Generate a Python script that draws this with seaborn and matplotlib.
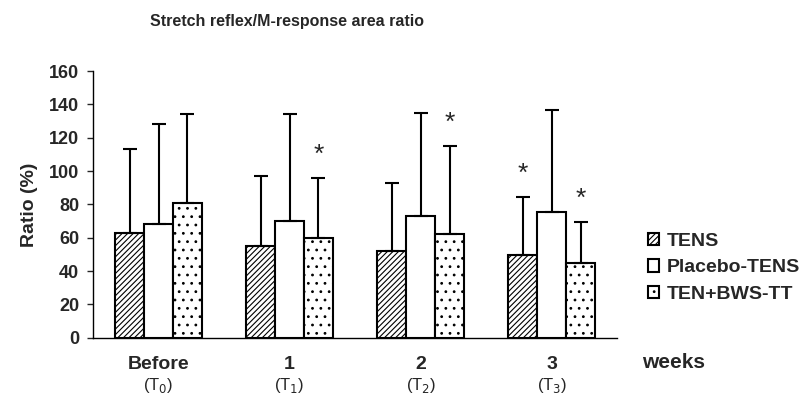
import numpy as np
import pandas as pd
from matplotlib import pyplot as plt
import seaborn as sns

# values
weeks = ['Before', '1', '2', '3']
sub_labels = ['(T$_0$)', '(T$_1$)', '(T$_2$)', '(T$_3$)']
groups = ['TENS', 'Placebo-TENS', 'TEN+BWS-TT']
tens_mean = [63, 55, 52, 49.5]
tens_sd = [50, 42, 41, 35]
placebo_mean = [68.5, 70, 73, 75.5]
placebo_sd = [60, 64.5, 62, 61]
bws_mean = [81, 60, 62, 45]
bws_sd = [53, 36, 53, 24.5]
# (week index, group index) marked as significant
stars = [(1, 2), (2, 2), (3, 0), (3, 2)]

sns.set_theme(style='ticks')
plt.rcParams['font.family'] = ['Liberation Sans', 'DejaVu Sans']
plt.rcParams['hatch.linewidth'] = 0.8
plt.rcParams['hatch.color'] = 'black'

df = pd.DataFrame({
    'week': weeks * 3,
    'group': np.repeat(groups, 4),
    'ratio': tens_mean + placebo_mean + bws_mean,
})
sds = [tens_sd, placebo_sd, bws_sd]
hatches = ['//////', '', '..']

fig = plt.figure(figsize=(8.09, 4.04), dpi=100)
ax = fig.add_axes([0.115, 0.164, 0.648, 0.66])

sns.barplot(data=df, x='week', y='ratio', hue='group', order=weeks, hue_order=groups,
            palette=['white'] * 3, saturation=1, width=0.66, gap=0,
            edgecolor='black', linewidth=1.5, errorbar=None, legend=False, ax=ax)

bars = list(ax.containers)
tops = {}
for i, cont in enumerate(bars):
    xs = []
    hs = []
    for p in cont.patches:
        p.set_hatch(hatches[i])
        xs.append(p.get_x() + p.get_width() / 2)
        hs.append(p.get_height())
    ax.errorbar(xs, hs, yerr=[np.zeros(4), sds[i]], fmt='none', ecolor='black',
                elinewidth=1.5, capsize=4.7, capthick=1.5, zorder=3)
    for j in range(4):
        tops[(j, i)] = (xs[j], hs[j] + sds[i][j])

for key in stars:
    x, y = tops[key]
    ax.text(x, y + 14, '*', ha='center', va='center', fontsize=19)

ax.set_ylim(0, 160)
ax.set_xlim(-0.5, 3.5)
ax.set_yticks(range(0, 161, 20))
ax.tick_params(axis='y', length=4, width=1, pad=6, labelsize=13)
for t in ax.get_yticklabels():
    t.set_fontweight('bold')
ax.tick_params(axis='x', length=0, pad=13, labelsize=14)
ax.set_xticks(range(4))
ax.set_xticklabels(weeks, fontweight='bold')
for i, s in enumerate(sub_labels):
    ax.text(i, -0.178, s, transform=ax.get_xaxis_transform(), ha='center', va='center',
            fontsize=12)
ax.set_xlabel('')
ax.set_ylabel('Ratio (%)', fontsize=14, fontweight='bold', labelpad=8)
for s in ['left', 'bottom']:
    ax.spines[s].set_linewidth(1)
    ax.spines[s].set_color('black')
sns.despine(ax=ax)

fig.text(0.355, 0.948, 'Stretch reflex/M-response area ratio', ha='center', va='center',
         fontsize=11.5, fontweight='bold')
fig.text(0.832, 0.102, 'weeks', ha='center', va='center', fontsize=15, fontweight='bold')

leg = ax.legend(handles=bars, labels=groups, loc='center left',
                bbox_to_anchor=(0.779, 0.337), bbox_transform=fig.transFigure,
                frameon=False, handlelength=0.6, handleheight=0.6, handletextpad=0.4,
                labelspacing=0.5, prop={'weight': 'bold', 'size': 14})

fig.savefig('out.png', dpi=100)
